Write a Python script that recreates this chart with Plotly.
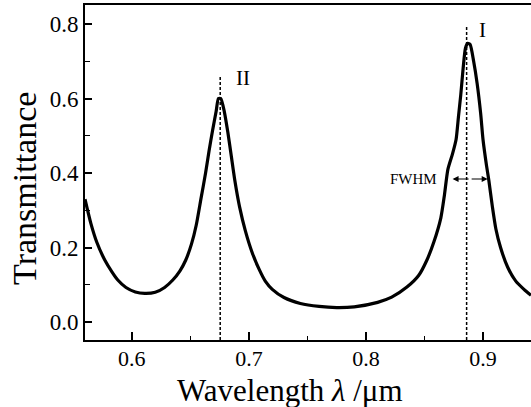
import plotly.graph_objects as go

wavelength = [0.560, 0.565, 0.570, 0.577, 0.583, 0.588, 0.595, 0.603, 0.611, 0.620,
              0.628, 0.635, 0.641, 0.646, 0.651, 0.655, 0.659, 0.663, 0.666, 0.669,
              0.672, 0.674, 0.676, 0.679, 0.682, 0.685, 0.688, 0.692, 0.697, 0.703,
              0.709, 0.714, 0.720, 0.730, 0.744, 0.760, 0.775, 0.790, 0.810, 0.822,
              0.835, 0.845, 0.852, 0.858, 0.864, 0.867, 0.870, 0.874, 0.877, 0.879,
              0.881, 0.883, 0.885, 0.887, 0.889, 0.892, 0.895, 0.898, 0.900, 0.903,
              0.905, 0.908, 0.911, 0.915, 0.921, 0.928, 0.935, 0.941]
transmittance = [0.330, 0.265, 0.215, 0.166, 0.135, 0.113, 0.093, 0.081, 0.077, 0.080,
                 0.093, 0.113, 0.137, 0.166, 0.210, 0.260, 0.330, 0.400, 0.460, 0.515,
                 0.565, 0.600, 0.600, 0.565, 0.510, 0.445, 0.380, 0.310, 0.245, 0.185,
                 0.140, 0.110, 0.088, 0.066, 0.050, 0.042, 0.039, 0.041, 0.053, 0.067,
                 0.094, 0.125, 0.166, 0.215, 0.280, 0.340, 0.410, 0.452, 0.490, 0.550,
                 0.610, 0.680, 0.735, 0.748, 0.745, 0.700, 0.640, 0.560, 0.490, 0.420,
                 0.380, 0.310, 0.250, 0.200, 0.148, 0.110, 0.088, 0.072]

peak_names = ["I", "II"]
peak_x = [0.886, 0.6755]
peak_line_top = [0.797, 0.658]
label_y = [0.785, 0.655]

fwhm_y = 0.384
fwhm_x = [0.874, 0.904]

x_ticks = [0.6, 0.7, 0.8, 0.9]
y_ticks = [0.0, 0.2, 0.4, 0.6, 0.8]

x_title = "Wavelength <i>λ</i> /μm"
y_title = "Transmittance"

FONT = "Liberation Serif, Times New Roman, serif"

fig = go.Figure()

for px, top in zip(peak_x, peak_line_top):
    fig.add_trace(go.Scatter(x=[px, px], y=[-0.048, top], mode="lines",
                             line=dict(color="black", width=1.5, dash="3px,2px"),
                             showlegend=False, hoverinfo="skip"))

fig.add_trace(go.Scatter(x=wavelength, y=transmittance, mode="lines",
                         line=dict(color="black", width=3.2, shape="spline", smoothing=0.6),
                         showlegend=False))

for name, px, ly in zip(peak_names, peak_x, label_y):
    fig.add_annotation(x=px, y=ly, text=name, showarrow=False, xanchor="left",
                       xshift=10 if name == "I" else 14,
                       font=dict(family=FONT, size=21, color="black"))

# FWHM double arrow
fig.add_annotation(x=fwhm_x[0], y=fwhm_y, ax=(fwhm_x[0] + fwhm_x[1]) / 2, ay=fwhm_y,
                   axref="x", ayref="y", xref="x", yref="y", text="",
                   showarrow=True, arrowhead=2, arrowsize=1, arrowwidth=1.2, arrowcolor="black")
fig.add_annotation(x=fwhm_x[1], y=fwhm_y, ax=(fwhm_x[0] + fwhm_x[1]) / 2, ay=fwhm_y,
                   axref="x", ayref="y", xref="x", yref="y", text="",
                   showarrow=True, arrowhead=2, arrowsize=1, arrowwidth=1.2, arrowcolor="black")
fig.add_annotation(x=fwhm_x[0], y=fwhm_y, text="FWHM", showarrow=False,
                   xanchor="right", xshift=-14,
                   font=dict(family=FONT, size=15, color="black"))

# axis titles as annotations for exact placement
fig.add_annotation(xref="paper", yref="paper", x=0.46, y=0, xanchor="center", yanchor="top",
                   yshift=-31, text=x_title, showarrow=False,
                   font=dict(family=FONT, size=31, color="black"))
fig.add_annotation(xref="paper", yref="paper", x=-0.1345, y=0.451, xanchor="center",
                   yanchor="middle", textangle=-90, text=y_title, showarrow=False,
                   font=dict(family=FONT, size=34, color="black"))

fig.update_layout(
    width=531, height=407,
    margin=dict(l=85, r=0, t=5, b=67),
    paper_bgcolor="white", plot_bgcolor="white",
    font=dict(family=FONT, color="black"),
)
fig.update_xaxes(
    range=[0.56, 0.941], tickvals=x_ticks, ticktext=[f"{v:.1f}" for v in x_ticks],
    ticks="inside", ticklen=8, tickwidth=1.5, tickcolor="black", ticklabelstandoff=-2,
    minor=dict(dtick=0.05, ticks="inside", ticklen=4, tickwidth=1.2, tickcolor="black", tick0=0.55),
    showline=True, linecolor="black", linewidth=2, mirror=True, showgrid=False, zeroline=False,
    tickfont=dict(family=FONT, size=22),
)
fig.update_yaxes(
    range=[-0.048, 0.851], tickvals=y_ticks, ticktext=[f"{v:.1f}" for v in y_ticks],
    ticks="inside", ticklen=7, tickwidth=1.5, tickcolor="black",
    minor=dict(dtick=0.1, ticks="inside", ticklen=5, tickwidth=1.2, tickcolor="black", tick0=0.1),
    showline=True, linecolor="black", linewidth=2, mirror=False, showgrid=False, zeroline=False,
    tickfont=dict(family=FONT, size=23),
)

fig.write_html("out.html")
